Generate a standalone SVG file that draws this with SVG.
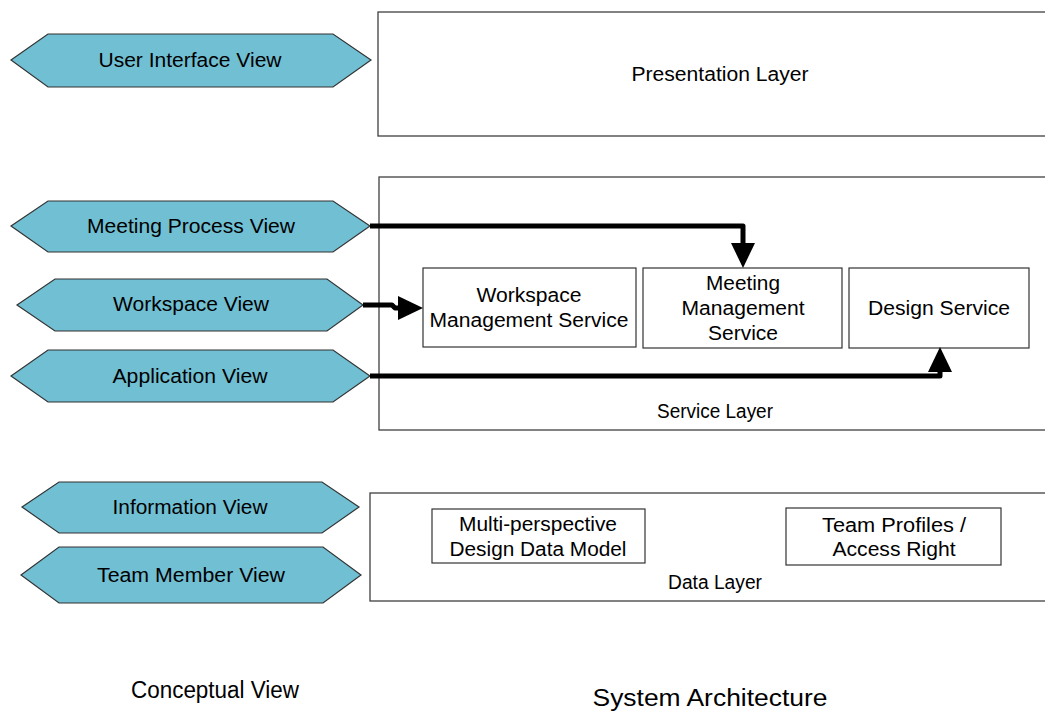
<svg xmlns="http://www.w3.org/2000/svg" width="1045" height="711" viewBox="0 0 1045 711">
<style>
  text { font-family: "Liberation Sans", Arial, sans-serif; font-size: 20px; fill: #000; text-anchor: middle; }
  .hex { fill: #70BFD3; stroke: #333; stroke-width: 1.2; }
  .layer { fill: #fff; stroke: #404040; stroke-width: 1.3; }
  .box { fill: #fff; stroke: #333; stroke-width: 1.2; }
  .conn { fill: none; stroke: #000; stroke-width: 5; stroke-linejoin: round; }
  .big { font-size: 23px; }
</style>
<defs>
  <marker id="arrow" markerUnits="userSpaceOnUse" markerWidth="26" markerHeight="26" refX="0" refY="12" orient="auto" overflow="visible">
    <path d="M0,0 L25,12 L0,24 Z" fill="#000"/>
  </marker>
</defs>
<rect width="1045" height="711" fill="#fff"/>

<g id="presentation-layer">
  <rect class="layer" x="378" y="12" width="700" height="124"/>
  <text x="720" y="81" textLength="177" lengthAdjust="spacingAndGlyphs">Presentation Layer</text>
</g>
<g id="service-layer">
  <rect class="layer" x="379" y="177" width="700" height="253"/>
  <text x="715" y="418" textLength="116" lengthAdjust="spacingAndGlyphs">Service Layer</text>
</g>
<g id="data-layer">
  <rect class="layer" x="370" y="493" width="700" height="108"/>
  <text x="715" y="589" textLength="94" lengthAdjust="spacingAndGlyphs">Data Layer</text>
</g>

<g id="user-interface-view">
  <polygon class="hex" points="11,60 48,34 333,34 371,60 333,87 48,87"/>
  <text x="190" y="67" textLength="183" lengthAdjust="spacingAndGlyphs">User Interface View</text>
</g>
<g id="meeting-process-view">
  <polygon class="hex" points="11,226 48,201 333,201 370,226 333,252 48,252"/>
  <text x="191" y="233" textLength="208" lengthAdjust="spacingAndGlyphs">Meeting Process View</text>
</g>
<g id="workspace-view">
  <polygon class="hex" points="17,305 55,279 327,279 363,305 327,331 55,331"/>
  <text x="191" y="311" textLength="156" lengthAdjust="spacingAndGlyphs">Workspace View</text>
</g>
<g id="application-view">
  <polygon class="hex" points="11,376 48,350 333,350 370,376 333,402 48,402"/>
  <text x="190" y="383" textLength="155" lengthAdjust="spacingAndGlyphs">Application View</text>
</g>
<g id="information-view">
  <polygon class="hex" points="22,507 59,482 322,482 359,507 322,533 59,533"/>
  <text x="190" y="514" textLength="155" lengthAdjust="spacingAndGlyphs">Information View</text>
</g>
<g id="team-member-view">
  <polygon class="hex" points="21,575 59,547 323,547 361,575 323,603 59,603"/>
  <text x="191" y="582" textLength="188" lengthAdjust="spacingAndGlyphs">Team Member View</text>
</g>

<g id="workspace-management-service">
  <rect class="box" x="423" y="268" width="213" height="79"/>
  <text x="529" y="302" textLength="105" lengthAdjust="spacingAndGlyphs">Workspace</text>
  <text x="529" y="327" textLength="199" lengthAdjust="spacingAndGlyphs">Management Service</text>
</g>
<g id="meeting-management-service">
  <rect class="box" x="643" y="268" width="199" height="80"/>
  <text x="743" y="290" textLength="74" lengthAdjust="spacingAndGlyphs">Meeting</text>
  <text x="743" y="315" textLength="123" lengthAdjust="spacingAndGlyphs">Management</text>
  <text x="743" y="340" textLength="70" lengthAdjust="spacingAndGlyphs">Service</text>
</g>
<g id="design-service">
  <rect class="box" x="849" y="268" width="180" height="80"/>
  <text x="939" y="315" textLength="142" lengthAdjust="spacingAndGlyphs">Design Service</text>
</g>

<g id="design-data-model">
  <rect class="box" x="432" y="509" width="213" height="54"/>
  <text x="538" y="531" textLength="158" lengthAdjust="spacingAndGlyphs">Multi-perspective</text>
  <text x="538" y="556" textLength="177" lengthAdjust="spacingAndGlyphs">Design Data Model</text>
</g>
<g id="team-profiles">
  <rect class="box" x="786" y="508" width="215" height="57"/>
  <text x="894" y="532" textLength="144" lengthAdjust="spacingAndGlyphs">Team Profiles /</text>
  <text x="894" y="556" textLength="123" lengthAdjust="spacingAndGlyphs">Access Right</text>
</g>

<g id="connectors">
  <path class="conn" d="M370,226 H743 V243" marker-end="url(#arrow)"/>
  <path class="conn" d="M363,305 H392 L395,308 H398" marker-end="url(#arrow)"/>
  <path class="conn" d="M370,376 H940 V372" marker-end="url(#arrow)"/>
</g>

<g id="captions">
  <text class="big" x="215" y="698" textLength="168" lengthAdjust="spacingAndGlyphs">Conceptual View</text>
  <text class="big" x="710" y="706" textLength="235" lengthAdjust="spacingAndGlyphs">System Architecture</text>
</g>
</svg>
